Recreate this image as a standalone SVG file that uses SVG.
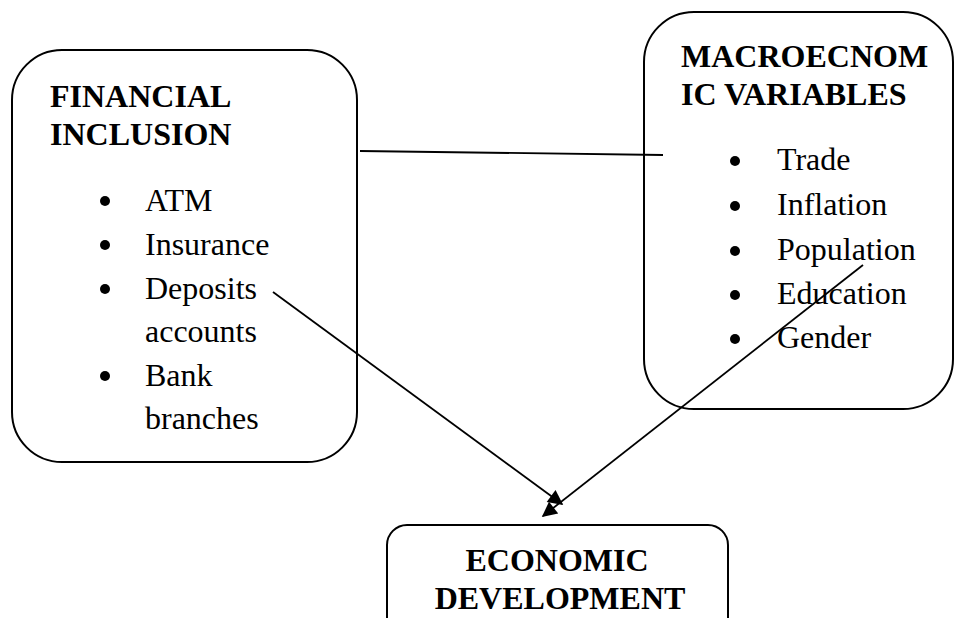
<svg xmlns="http://www.w3.org/2000/svg" width="955" height="618" viewBox="0 0 955 618">
<style>
.box{fill:#fff;stroke:#000;stroke-width:2}
.t{font-family:"Liberation Serif","Times New Roman",serif;font-size:32px;fill:#000}
.b{font-weight:bold}
.dot{fill:#000}
.ln{stroke:#000;stroke-width:1.8;fill:none}
</style>
<defs>
<marker id="ah2" viewBox="0 0 10 10" refX="9" refY="5" markerWidth="19" markerHeight="15" markerUnits="userSpaceOnUse" orient="auto">
<path d="M0,0 L10,5 L0,10 z" fill="#000"/>
</marker>
</defs>
<rect width="955" height="618" fill="#fff"/>
<g id="financial-inclusion">
<rect class="box" x="12" y="50" width="345" height="412" rx="50" ry="50"/>
<text class="t b" x="50" y="107">FINANCIAL</text>
<text class="t b" x="50" y="145">INCLUSION</text>
<circle class="dot" cx="105" cy="201" r="5"/><text class="t" x="145" y="211">ATM</text>
<circle class="dot" cx="105" cy="245" r="5"/><text class="t" x="145" y="255">Insurance</text>
<circle class="dot" cx="105" cy="289" r="5"/><text class="t" x="145" y="299">Deposits</text>
<text class="t" x="145" y="342">accounts</text>
<circle class="dot" cx="105" cy="376" r="5"/><text class="t" x="145" y="386">Bank</text>
<text class="t" x="145" y="429">branches</text>
</g>
<g id="macroeconomic-variables">
<rect class="box" x="644" y="12" width="309" height="397" rx="50" ry="50"/>
<text class="t b" x="681" y="67">MACROECNOM</text>
<text class="t b" x="681" y="105">IC VARIABLES</text>
<circle class="dot" cx="735" cy="161" r="5"/><text class="t" x="777" y="170">Trade</text>
<circle class="dot" cx="735" cy="206" r="5"/><text class="t" x="777" y="215">Inflation</text>
<circle class="dot" cx="735" cy="251" r="5"/><text class="t" x="777" y="260">Population</text>
<circle class="dot" cx="735" cy="295" r="5"/><text class="t" x="777" y="304">Education</text>
<circle class="dot" cx="735" cy="339" r="5"/><text class="t" x="777" y="348">Gender</text>
</g>
<g id="economic-development">
<rect class="box" x="387" y="525" width="341" height="115" rx="20" ry="20"/>
<text class="t b" x="557" y="571" text-anchor="middle">ECONOMIC</text>
<text class="t b" x="560" y="609" text-anchor="middle">DEVELOPMENT</text>
</g>
<g id="connectors">
<line class="ln" x1="360" y1="151" x2="663" y2="155"/>
<line class="ln" x1="273" y1="292" x2="562" y2="504" marker-end="url(#ah2)"/>
<line class="ln" x1="863" y1="265" x2="543" y2="516" marker-end="url(#ah2)"/>
</g>
</svg>
